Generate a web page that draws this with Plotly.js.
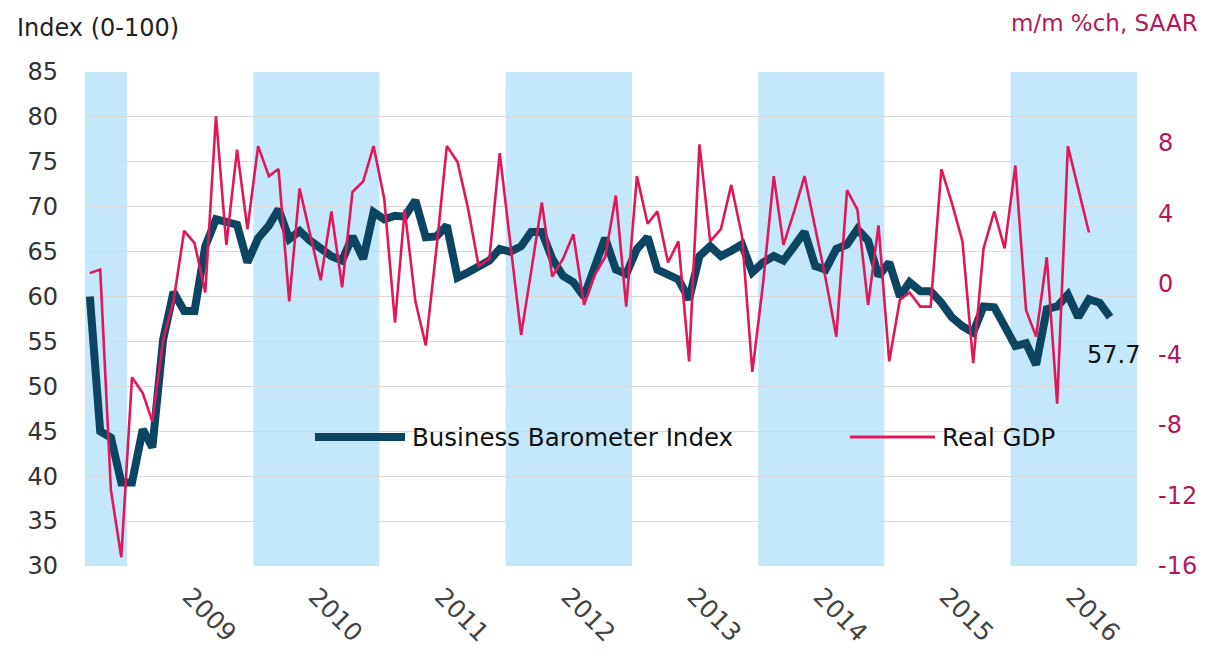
<!DOCTYPE html>
<html>
<head>
<meta charset="utf-8">
<script src="https://cdn.plot.ly/plotly-3.0.1.min.js"></script>
<style>
  html, body { margin: 0; padding: 0; background: #ffffff; }
  #chart { width: 1212px; height: 655px; }
</style>
</head>
<body>
<div id="chart"></div>
<script>
// ---- Data ----
const firstMonth = [2008, 9];            // Sep 2008, first observation
const yearLabels = ["2009", "2010", "2011", "2012", "2013", "2014", "2015", "2016"];
const shadedYears = [2008, 2010, 2012, 2014, 2016];
const rightTicks = [-16, -12, -8, -4, 0, 4, 8];
const rightTickLabels = ["-16", "-12", "-8", "-4", "0", "4", "8"];

const seriesNames = ["Business Barometer Index", "Real GDP"];

const bbi = [
  60.0, 45.0, 44.3, 39.3, 39.3, 45.2, 43.2, 55.2, 60.5, 58.4,
  58.4, 65.6, 68.6, 68.3, 68.0, 63.8, 66.5, 67.9, 69.7, 66.4,
  67.3, 66.2, 65.3, 64.5, 64.0, 66.7, 64.2, 69.4, 68.6, 69.0,
  68.9, 70.7, 66.6, 66.7, 67.9, 62.1, 62.7, 63.4, 64.0, 65.3,
  65.0, 65.6, 67.2, 67.2, 64.2, 62.3, 61.6, 60.0, 63.4, 66.5,
  63.0, 62.5, 65.3, 66.6, 63.0, 62.5, 61.9, 59.7, 64.5, 65.6,
  64.5, 65.1, 65.8, 62.7, 63.8, 64.5, 64.0, 65.6, 67.2, 63.4,
  63.0, 65.3, 65.8, 67.5, 66.2, 62.3, 63.8, 60.0, 61.6, 60.6,
  60.6, 59.3, 57.7, 56.7, 56.0, 58.9, 58.8, 56.7, 54.5, 54.8,
  52.4, 58.6, 58.9, 60.2, 57.7, 59.7, 59.3, 57.7
];

const gdp = [
   0.6,   0.8, -11.7, -15.5,  -5.3,  -6.2,  -7.8,  -3.2,  -1.0,   3.0,
   2.3,  -0.5,   9.5,   2.2,   7.6,   3.1,   7.8,   6.1,   6.5,  -1.0,
   5.4,   2.7,   0.2,   4.1,  -0.2,   5.2,   5.8,   7.8,   4.8,  -2.2,
   4.2,  -1.0,  -3.5,   2.0,   7.8,   6.9,   4.2,   1.0,   1.4,   7.4,
   2.2,  -2.9,   0.7,   4.6,   0.4,   1.4,   2.8,  -1.2,   0.5,   1.5,
   5.0,  -1.3,   6.1,   3.4,   4.1,   1.2,   2.4,  -4.4,   7.9,   2.4,
   3.1,   5.6,   2.7,  -5.0,   0.0,   6.1,   2.2,   4.1,   6.1,   3.2,
   0.3,  -3.0,   5.3,   4.2,  -1.2,   3.3,  -4.4,  -0.9,  -0.5,  -1.3,
  -1.3,   6.5,   4.6,   2.4,  -4.5,   2.0,   4.1,   2.0,   6.7,  -1.5,
  -3.0,   1.5,  -6.8,   7.8,   5.4,   2.9
];

// month categories (mid-month dates), one per observation
function monthDates(n) {
  const out = [];
  let y = firstMonth[0], m = firstMonth[1];
  for (let i = 0; i < n; i++) {
    out.push(y + "-" + String(m).padStart(2, "0") + "-15");
    m++; if (m > 12) { m = 1; y++; }
  }
  return out;
}
const datesBBI = monthDates(bbi.length);
const datesGDP = monthDates(gdp.length);

// ---- Styling ----
const FONT = "DejaVu Sans, Liberation Sans, Arial, sans-serif";
const NAVY = "#0b4561";
const CRIMSON = "#e0185a";
const CRIMSON_TXT = "#b3175a";
const BAND = "#c4e7f9";

const traces = [
  {
    x: datesBBI, y: bbi, name: seriesNames[0], type: "scatter", mode: "lines",
    line: { color: NAVY, width: 8 }, yaxis: "y", hoverinfo: "x+y"
  },
  {
    x: datesGDP, y: gdp, name: seriesNames[1], type: "scatter", mode: "lines",
    line: { color: CRIMSON, width: 2.6 }, yaxis: "y2", hoverinfo: "x+y"
  }
];

const shapes = shadedYears.map(yr => ({
  type: "rect", xref: "x", yref: "paper", layer: "between",
  x0: (yr === 2008 ? "2008-09-01" : yr + "-01-01"), x1: (yr + 1) + "-01-01",
  y0: 0, y1: 1, fillcolor: BAND, line: { width: 0 }
}));

// manual legend samples
const legY = 0.261;
shapes.push({ type: "line", xref: "paper", yref: "paper", x0: 0.2186, x1: 0.3042, y0: legY, y1: legY,
  line: { color: NAVY, width: 8 }, layer: "above" });
shapes.push({ type: "line", xref: "paper", yref: "paper", x0: 0.727, x1: 0.808, y0: legY, y1: legY,
  line: { color: CRIMSON, width: 3 }, layer: "above" });

const lastIdx = bbi.length - 1;
const annotations = [
  { text: "Index (0-100)", xref: "paper", yref: "paper", x: -0.0665, y: 1.089,
    xanchor: "left", yanchor: "middle", showarrow: false, font: { family: FONT, size: 24, color: "#222222" } },
  { text: "m/m %ch, SAAR", xref: "paper", yref: "paper", x: 1.06, y: 1.099,
    xanchor: "right", yanchor: "middle", showarrow: false, font: { family: FONT, size: 23, color: CRIMSON_TXT } },
  { text: seriesNames[0], xref: "paper", yref: "paper", x: 0.309, y: legY,
    xanchor: "left", yanchor: "middle", showarrow: false, font: { family: FONT, size: 24.5, color: "#111111" } },
  { text: seriesNames[1], xref: "paper", yref: "paper", x: 0.8127, y: legY,
    xanchor: "left", yanchor: "middle", showarrow: false, font: { family: FONT, size: 24.5, color: "#111111" } },
  { text: bbi[lastIdx].toFixed(1), xref: "x", yref: "y", x: datesBBI[lastIdx], y: bbi[lastIdx],
    xanchor: "center", yanchor: "top", xshift: 3, yshift: -22, showarrow: false,
    font: { family: FONT, size: 24, color: "#111111" } }
];

const layout = {
  width: 1212, height: 655,
  margin: { l: 85, r: 75, t: 72, b: 89 },
  paper_bgcolor: "#ffffff", plot_bgcolor: "#ffffff",
  showlegend: false,
  font: { family: FONT, size: 24, color: "#333333" },
  xaxis: {
    type: "date",
    range: ["2008-09-01", "2017-01-01"],
    tickmode: "array",
    tickvals: yearLabels.map(y => y + "-07-01"),
    ticktext: yearLabels,
    tickangle: 45,
    ticks: "", showgrid: false, zeroline: false,
    showline: false,
    ticklabelstandoff: 10,
    tickfont: { family: FONT, size: 25, color: "#444444" }
  },
  yaxis: {
    range: [30, 85], dtick: 5, tick0: 30,
    showgrid: true, gridcolor: "#d9d9d9", gridwidth: 1,
    zeroline: false, ticks: "", showline: false,
    ticklabelstandoff: 26,
    tickfont: { family: FONT, size: 24, color: "#333333" }
  },
  yaxis2: {
    overlaying: "y", side: "right",
    range: [-16, 12],
    tickmode: "array", tickvals: rightTicks, ticktext: rightTickLabels,
    showgrid: false, zeroline: false, ticks: "", showline: false,
    ticklabelstandoff: 20,
    tickfont: { family: FONT, size: 24, color: CRIMSON_TXT }
  },
  shapes: shapes,
  annotations: annotations
};

Plotly.newPlot("chart", traces, layout, { displayModeBar: false, staticPlot: true });
</script>
</body>
</html>
